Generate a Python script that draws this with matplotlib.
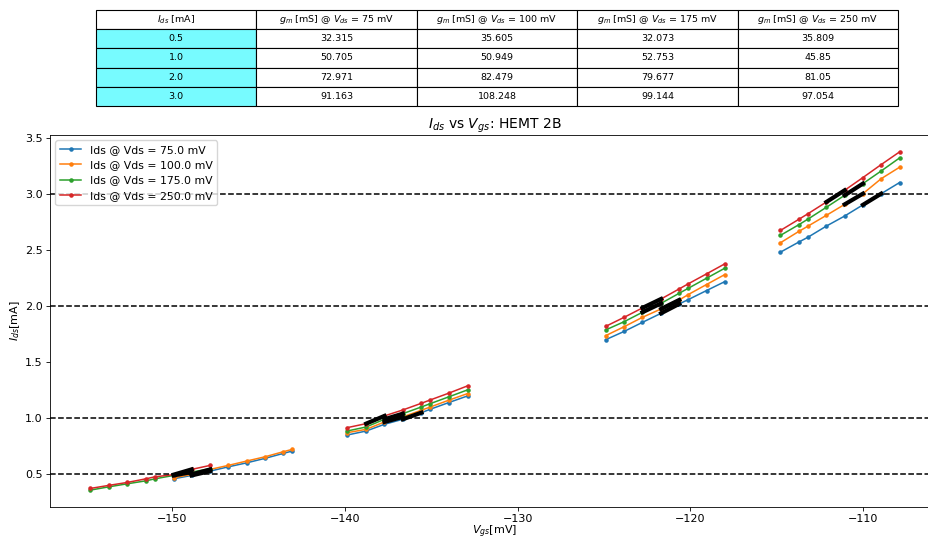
import numpy as np
import matplotlib
matplotlib.use('Agg')
import matplotlib.pyplot as plt

# Vgs sweeps [mV] (blue/orange share one sweep, green/red another)
vgs_low = [[-149.92, -148.88, -147.80, -146.75, -145.68, -144.62, -143.57, -143.05],
           [-139.87, -138.77, -137.71, -136.65, -135.57, -135.05, -133.99, -132.89],
           [-124.90, -123.83, -122.77, -121.69, -120.64, -120.12, -119.06, -118.00],
           [-114.78, -113.72, -113.18, -112.12, -111.06, -110.00, -108.94, -107.88]]
vgs_high = [[-154.74, -153.68, -152.62, -151.52, -151.00, -149.92, -148.88, -147.80],
            vgs_low[1], vgs_low[2], vgs_low[3]]

# Ids [mA] per Vds, one list per bias cluster
ids_75 = [[0.458, 0.488, 0.527, 0.565, 0.601, 0.641, 0.685, 0.706],
          [0.849, 0.885, 0.945, 0.990, 1.049, 1.080, 1.139, 1.199],
          [1.701, 1.775, 1.856, 1.937, 2.021, 2.059, 2.140, 2.220],
          [2.483, 2.573, 2.617, 2.716, 2.806, 2.906, 3.006, 3.105]]
ids_100 = [[0.467, 0.497, 0.542, 0.578, 0.617, 0.655, 0.700, 0.721],
           [0.870, 0.900, 0.966, 1.011, 1.071, 1.100, 1.160, 1.220],
           [1.737, 1.817, 1.901, 1.976, 2.056, 2.104, 2.194, 2.283],
           [2.567, 2.668, 2.716, 2.812, 2.910, 3.006, 3.140, 3.242]]
ids_175 = [[0.357, 0.386, 0.413, 0.440, 0.458, 0.488, 0.518, 0.548],
           [0.885, 0.921, 0.990, 1.040, 1.100, 1.130, 1.190, 1.253],
           [1.788, 1.862, 1.946, 2.026, 2.116, 2.160, 2.250, 2.340],
           [2.633, 2.728, 2.779, 2.884, 2.991, 3.096, 3.209, 3.325]]
ids_250 = [[0.372, 0.399, 0.425, 0.458, 0.476, 0.495, 0.542, 0.578],
           [0.915, 0.951, 1.020, 1.073, 1.133, 1.163, 1.223, 1.289],
           [1.820, 1.901, 1.985, 2.065, 2.155, 2.200, 2.289, 2.379],
           [2.677, 2.776, 2.827, 2.931, 3.036, 3.150, 3.266, 3.379]]

vds_list = [75.0, 100.0, 175.0, 250.0]
targets = [0.5, 1.0, 2.0, 3.0]

# gm table [mS]
gm_75 = [32.315, 50.705, 72.971, 91.163]
gm_100 = [35.605, 50.949, 82.479, 108.248]
gm_175 = [32.073, 52.753, 79.677, 99.144]
gm_250 = [35.809, 45.85, 81.05, 97.054]

series = [(vgs_low, ids_75), (vgs_low, ids_100), (vgs_high, ids_175), (vgs_high, ids_250)]

# original was drawn bigger and shrunk, so everything is a bit smaller
plt.rcParams['font.size'] = 8
plt.rcParams['lines.linewidth'] = 1.1
plt.rcParams['axes.linewidth'] = 0.6
plt.rcParams['xtick.major.width'] = 0.6
plt.rcParams['ytick.major.width'] = 0.6
plt.rcParams['xtick.major.size'] = 2.6
plt.rcParams['ytick.major.size'] = 2.6
plt.rcParams['xtick.major.pad'] = 2.5
plt.rcParams['ytick.major.pad'] = 2.5

fig = plt.figure(figsize=(9.29, 5.40), dpi=100)
ax = fig.add_axes([50 / 929, 1 - 507 / 540, 890 / 929, 372 / 540])

for (xs, ys), vds in zip(series, vds_list):
    # join clusters with NaN so they are not connected
    x_all, y_all = [], []
    for xc, yc in zip(xs, ys):
        x_all += list(xc) + [np.nan]
        y_all += list(yc) + [np.nan]
    ax.plot(x_all, y_all, marker='.', markersize=4.5, label=f'Ids @ Vds = {vds} mV')

    # segment through the two points around each target current
    for xc, yc, t in zip(xs, ys, targets):
        xc, yc = np.array(xc), np.array(yc)
        i = np.where((yc[:-1] < t) & (yc[1:] >= t))[0][0]
        ax.plot(xc[i:i + 2], yc[i:i + 2], color='k', linewidth=3, zorder=5)

for t in targets:
    ax.axhline(t, color='k', linestyle='--')

ax.set_title('$I_{ds}$ vs $V_{gs}$: HEMT 2B', fontsize=10, pad=4)
ax.set_xlabel('$V_{gs}$[mV]', labelpad=0)
ax.set_ylabel('$I_{ds}$[mA]', labelpad=2)
ax.legend(loc='upper left', fontsize=7.8)

# table above the plot
tax = fig.add_axes([96 / 929, 1 - 106 / 540, 802 / 929, 96 / 540])
tax.axis('off')
col_labels = ['$I_{ds}$ [mA]'] + [f'$g_m$ [mS] @ $V_{{ds}}$ = {int(v)} mV' for v in vds_list]
cell_text = []
for k, t in enumerate(targets):
    cell_text.append([str(t), str(gm_75[k]), str(gm_100[k]), str(gm_175[k]), str(gm_250[k])])
cell_colours = [['#77fbff'] + ['white'] * 4 for _ in targets]
tbl = tax.table(cellText=cell_text, colLabels=col_labels, cellColours=cell_colours,
                cellLoc='center', bbox=[0, 0, 1, 1])
tbl.auto_set_font_size(False)
tbl.set_fontsize(6.8)
for cell in tbl.get_celld().values():
    cell.set_linewidth(0.8)

fig.savefig('out.png', dpi=100)
